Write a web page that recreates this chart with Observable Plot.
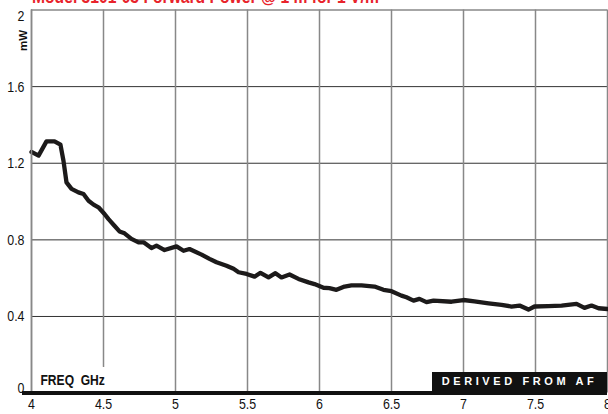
<!DOCTYPE html>
<html>
<head>
<meta charset="utf-8">
<script src="https://cdn.jsdelivr.net/npm/d3@7"></script>
<script src="https://cdn.jsdelivr.net/npm/@observablehq/plot@0.6"></script>
<style>
  html, body { margin: 0; padding: 0; background: #fff; }
  #wrap { position: relative; width: 608px; height: 414px; overflow: hidden;
          font-family: "Liberation Sans", Arial, sans-serif; }
  #title { position: absolute; left: 32px; top: -12px; font-size: 18px; line-height: 18px;
           font-weight: bold; color: #e8232b; white-space: nowrap;
           transform: scaleX(0.87); transform-origin: 0 0; }
  #badge { position: absolute; left: 432px; top: 372px; width: 175px; height: 20px; background: #111;
           color: #fff; font-family: "Liberation Sans", Arial, sans-serif; font-weight: bold; font-size: 11px;
           letter-spacing: 3.6px; line-height: 18px; text-align: center; }
</style>
</head>
<body>
<div id="wrap">
  <div id="chart"></div>
  <div id="title">Model 3101-03 Forward Power @ 1 m for 1 V/m</div>
  <div id="badge">DERIVED FROM AF</div>
</div>
<script>
// Frequency (GHz)
const freq = [4.000,4.049,4.104,4.160,4.201,4.222,4.243,4.278,4.326,4.361,4.396,4.431,4.465,4.507,4.535,4.576,4.611,4.646,4.694,4.743,4.778,4.833,4.868,4.924,5.007,5.056,5.097,5.181,5.236,5.285,5.354,5.403,5.438,5.493,5.549,5.590,5.646,5.694,5.736,5.792,5.854,5.924,5.965,6.028,6.069,6.118,6.174,6.222,6.292,6.382,6.444,6.500,6.569,6.604,6.653,6.694,6.743,6.792,6.917,7.000,7.076,7.174,7.264,7.333,7.389,7.451,7.493,7.590,7.681,7.785,7.840,7.889,7.938,8.000];
// Forward power (mW)
const power = [1.259,1.240,1.314,1.314,1.297,1.213,1.100,1.066,1.048,1.039,1.004,0.984,0.970,0.935,0.908,0.874,0.844,0.834,0.805,0.787,0.787,0.757,0.770,0.747,0.766,0.743,0.752,0.723,0.701,0.683,0.665,0.649,0.631,0.622,0.608,0.628,0.604,0.626,0.604,0.619,0.596,0.578,0.569,0.550,0.548,0.539,0.556,0.562,0.562,0.556,0.539,0.532,0.509,0.500,0.483,0.492,0.475,0.483,0.477,0.486,0.479,0.469,0.461,0.452,0.457,0.436,0.452,0.454,0.457,0.466,0.445,0.457,0.443,0.439];
const xTicks = [4, 4.5, 5, 5.5, 6, 6.5, 7, 7.5, 8];
const yTicks = [0, 0.4, 0.8, 1.2, 1.6, 2];
const yGrid = [0.4, 0.8, 1.2, 1.6];

const data = freq.map((f, i) => ({f, p: power[i]}));
const fmt = d => String(d);
const axisStyle = {tickSize: 0, fontSize: 15.5, label: null, fill: "#111", tickFormat: fmt};

const chart = Plot.plot({
  width: 608,
  height: 414,
  marginLeft: 31,
  marginRight: 1,
  marginTop: 9.5,
  marginBottom: 21.4,
  style: {fontFamily: '"Liberation Sans", Arial, sans-serif', color: "#111", background: "white"},
  x: {domain: [4, 8], axis: null},
  y: {domain: [0, 2], axis: null},
  marks: [
    Plot.ruleY(yGrid, {stroke: "#333", strokeWidth: 1}),
    Plot.ruleY([2], {stroke: "#888", strokeWidth: 1.5}),
    Plot.ruleX(xTicks, {stroke: "#888", strokeWidth: 1.5}),
    Plot.line(data, {x: "f", y: "p", stroke: "#1c1a1a", strokeWidth: 4.3, strokeLinejoin: "round", strokeLinecap: "round"}),
    Plot.text(["FREQ\u00a0\u00a0GHz"], {frameAnchor: "bottom-left", dx: 9, dy: -8, textAnchor: "start", fontSize: 15.5, fontWeight: "bold", fill: "#111", stroke: "white", strokeWidth: 20, paintOrder: "stroke"}),
    Plot.ruleX([4], {stroke: "#888", strokeWidth: 1.5}),
    Plot.ruleY([0], {stroke: "#111", strokeWidth: 4, insetLeft: -9}),
    Plot.axisY([0.4, 0.8, 1.2, 1.6], {...axisStyle, tickPadding: 7}),
    Plot.axisY([0], {...axisStyle, tickPadding: 7, dy: -5}),
    Plot.axisY([2], {...axisStyle, tickPadding: 7, dy: 6}),
    Plot.axisX(xTicks, {...axisStyle, tickPadding: 5}),
    Plot.text(["mW"], {frameAnchor: "top-left", dx: -12.5, dy: 41, rotate: -90, fontSize: 11.5, fontWeight: "bold", fill: "#111"})
  ]
});

// condense tick labels and the axis caption horizontally (Helvetica Condensed look)
d3.select(chart).selectAll("text").each(function () {
  const t = d3.select(this);
  const s = t.text();
  const isTick = this.closest('g[aria-label$="tick label"]') !== null;
  const isFreq = s.indexOf("FREQ") >= 0;
  if (!isTick && !isFreq) return;
  const k = isFreq ? 0.78 : 0.8;
  const x = +t.attr("x") || 0, y = +t.attr("y") || 0;
  const tr = t.attr("transform") || "";
  t.attr("transform", `${tr} translate(${x},${y}) scale(${k},1) translate(${-x},${-y})`);
});

document.getElementById("chart").appendChild(chart);
</script>
</body>
</html>
